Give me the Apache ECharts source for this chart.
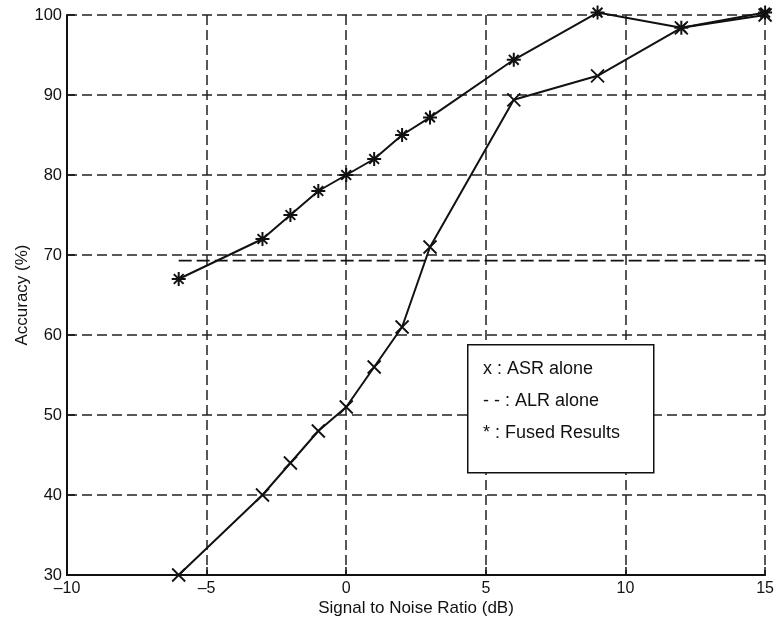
<!DOCTYPE html>
<html>
<head>
<meta charset="utf-8">
<script src="https://cdn.jsdelivr.net/npm/echarts@6/dist/echarts.min.js"></script>
<style>html,body{margin:0;padding:0;background:#fff}#c{width:777px;height:622px}</style>
</head>
<body>
<div id="c"></div>
<script>
const snr = [-6, -3, -2, -1, 0, 1, 2, 3, 6, 9, 12, 15];
const asrAlone = [30, 40, 44, 48, 51, 56, 61, 71, 89.4, 92.4, 98.4, 100];
const fused = [67, 72, 75, 78, 80, 82, 85, 87.2, 94.4, 100.3, 98.4, 100.3];
const alrX = [-6, 15];
const alrY = [69.3, 69.3];
const xTicks = [-10, -5, 0, 5, 10, 15];
const yTicks = [30, 40, 50, 60, 70, 80, 90, 100];
const legendLines = ['x : ASR alone', '- - : ALR alone', '* : Fused Results'];

const FONT = 'Liberation Sans';
const crossPath = 'path://M0 0L10 10M10 0L0 10';
const starPath = 'path://M5 0L5 10M0 5L10 5M1.5 1.5L8.5 8.5M8.5 1.5L1.5 8.5';

const chart = echarts.init(document.getElementById('c'));
chart.setOption({
  animation: false,
  grid: {left: 67, right: 11, top: 15, bottom: 47},
  xAxis: {
    type: 'value', min: -10, max: 15, interval: 5,
    name: 'Signal to Noise Ratio (dB)', nameLocation: 'middle', nameGap: 25,
    nameMoveOverlap: false,
    nameTextStyle: {fontFamily: FONT, fontSize: 17, color: '#111'},
    axisLine: {show: true, onZero: false, lineStyle: {color: '#111', width: 2}},
    axisTick: {show: true, inside: true, length: 8, lineStyle: {color: '#111', width: 1.5}},
    axisLabel: {fontFamily: FONT, fontSize: 16, color: '#111', margin: 6,
      formatter: v => String(v).replace('-', '\u2013')},
    splitLine: {show: true, lineStyle: {color: '#222', width: 1.5, type: [10, 5]}}
  },
  yAxis: {
    type: 'value', min: 30, max: 100, interval: 10,
    name: 'Accuracy (%)', nameLocation: 'middle', nameGap: 36,
    nameMoveOverlap: false,
    nameTextStyle: {fontFamily: FONT, fontSize: 17, color: '#111'},
    axisLine: {show: true, onZero: false, lineStyle: {color: '#111', width: 2}},
    axisTick: {show: true, inside: true, length: 8, lineStyle: {color: '#111', width: 1.5}},
    axisLabel: {fontFamily: FONT, fontSize: 16.5, color: '#111', margin: 5},
    splitLine: {show: true, lineStyle: {color: '#222', width: 1.5, type: [10, 5]}}
  },
  series: [
    {
      type: 'line', name: 'ALR alone',
      data: alrX.map((x, i) => [x, alrY[i]]),
      showSymbol: false,
      lineStyle: {color: '#111', width: 1.8, type: [13, 5]}
    },
    {
      type: 'line', name: 'ASR alone', clip: false,
      data: snr.map((x, i) => [x, asrAlone[i]]),
      symbol: crossPath, symbolSize: 13,
      itemStyle: {color: 'none', borderColor: '#111', borderWidth: 1.8},
      lineStyle: {color: '#111', width: 2}
    },
    {
      type: 'line', name: 'Fused Results', clip: false,
      data: snr.map((x, i) => [x, fused[i]]),
      symbol: starPath, symbolSize: 14,
      itemStyle: {color: 'none', borderColor: '#111', borderWidth: 2},
      lineStyle: {color: '#111', width: 2}
    }
  ],
  graphic: [
    {
      type: 'rect', left: 467, top: 344, z: 100,
      shape: {width: 186, height: 128},
      style: {fill: '#fff', stroke: '#111', lineWidth: 1.5}
    }
  ].concat(legendLines.map((t, i) => ({
    type: 'text', left: 483, top: 360 + i * 32, z: 101,
    style: {text: t, fontFamily: FONT, fontSize: 18, fill: '#111'}
  })))
});
</script>
</body>
</html>
